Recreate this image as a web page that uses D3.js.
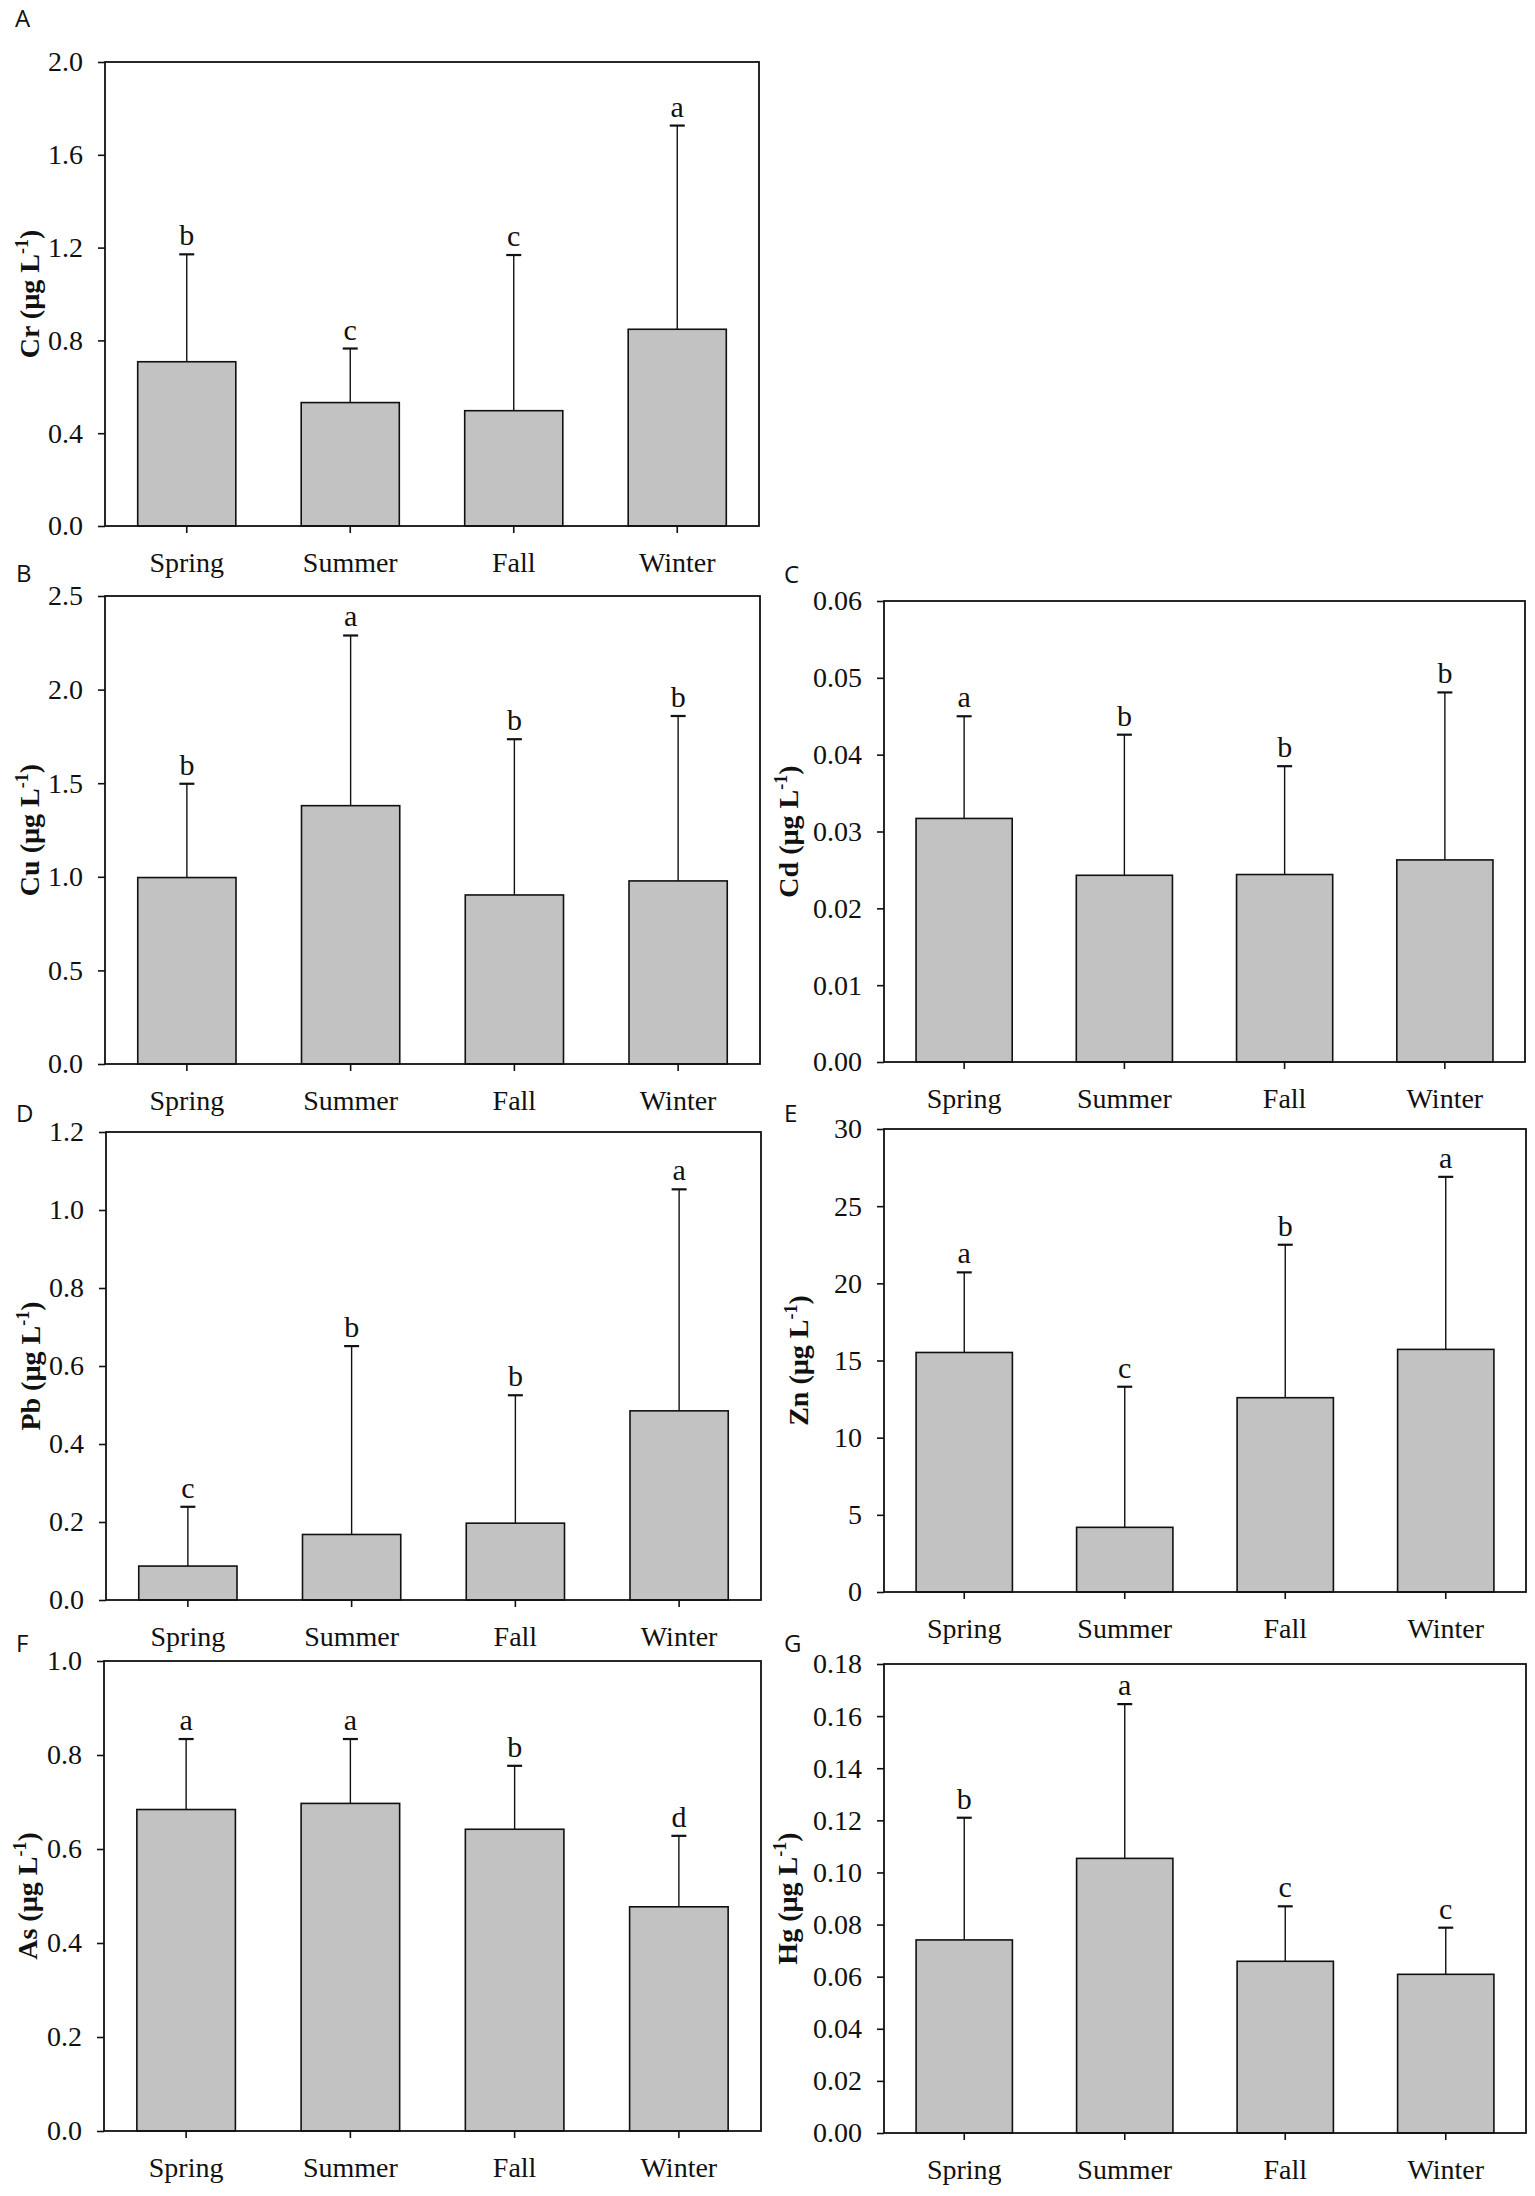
<!DOCTYPE html>
<html>
<head>
<meta charset="utf-8">
<script src="https://cdn.jsdelivr.net/npm/d3@7"></script>
<style>
  body { margin: 0; background: #fff; }
  svg { display: block; }
</style>
</head>
<body>
<div id="chart"></div>
<script>
// seasonal heavy metal concentrations, mean + upper SD, letters = significance groups
const seasons = ['Spring', 'Summer', 'Fall', 'Winter'];

const crMean = [0.708, 0.532, 0.497, 0.848];
const crSD   = [0.463, 0.233, 0.671, 0.878];
const crSig  = ['b', 'c', 'c', 'a'];
const crTicks = [0, 0.4, 0.8, 1.2, 1.6, 2.0];

const cuMean = [0.996, 1.380, 0.903, 0.978];
const cuSD   = [0.501, 0.909, 0.832, 0.881];
const cuSig  = ['b', 'a', 'b', 'b'];
const cuTicks = [0, 0.5, 1.0, 1.5, 2.0, 2.5];

const cdMean = [0.0317, 0.0243, 0.0244, 0.0263];
const cdSD   = [0.0133, 0.0183, 0.0141, 0.0218];
const cdSig  = ['a', 'b', 'b', 'b'];
const cdTicks = [0, 0.01, 0.02, 0.03, 0.04, 0.05, 0.06];

const pbMean = [0.087, 0.168, 0.197, 0.485];
const pbSD   = [0.152, 0.483, 0.328, 0.568];
const pbSig  = ['c', 'b', 'b', 'a'];
const pbTicks = [0, 0.2, 0.4, 0.6, 0.8, 1.0, 1.2];

const znMean = [15.52, 4.19, 12.59, 15.72];
const znSD   = [5.19, 9.11, 9.91, 11.18];
const znSig  = ['a', 'c', 'b', 'a'];
const znTicks = [0, 5, 10, 15, 20, 25, 30];

const asMean = [0.684, 0.697, 0.642, 0.477];
const asSD   = [0.150, 0.137, 0.135, 0.151];
const asSig  = ['a', 'a', 'b', 'd'];
const asTicks = [0, 0.2, 0.4, 0.6, 0.8, 1.0];

const hgMean = [0.0741, 0.1054, 0.0659, 0.0609];
const hgSD   = [0.0469, 0.0592, 0.0211, 0.0179];
const hgSig  = ['b', 'a', 'c', 'c'];
const hgTicks = [0, 0.02, 0.04, 0.06, 0.08, 0.10, 0.12, 0.14, 0.16, 0.18];

const panels = [
  {id: 'A', el: 'Cr', mean: crMean, sd: crSD, sig: crSig, ticks: crTicks, fmt: '.1f'},
  {id: 'B', el: 'Cu', mean: cuMean, sd: cuSD, sig: cuSig, ticks: cuTicks, fmt: '.1f'},
  {id: 'C', el: 'Cd', mean: cdMean, sd: cdSD, sig: cdSig, ticks: cdTicks, fmt: '.2f'},
  {id: 'D', el: 'Pb', mean: pbMean, sd: pbSD, sig: pbSig, ticks: pbTicks, fmt: '.1f'},
  {id: 'E', el: 'Zn', mean: znMean, sd: znSD, sig: znSig, ticks: znTicks, fmt: 'd'},
  {id: 'F', el: 'As', mean: asMean, sd: asSD, sig: asSig, ticks: asTicks, fmt: '.1f'},
  {id: 'G', el: 'Hg', mean: hgMean, sd: hgSD, sig: hgSig, ticks: hgTicks, fmt: '.2f'}
];

// plot boxes in page pixels, title = baseline x of rotated y title, lx/ly = panel letter
const layout = {
  A: {x0: 105, y0: 62,   x1: 759,  y1: 526,  title: 39,  lx: 15,  ly: 27},
  B: {x0: 105, y0: 596,  x1: 760,  y1: 1064, title: 39,  lx: 16,  ly: 582},
  C: {x0: 884, y0: 601,  x1: 1525, y1: 1062, title: 798, lx: 784, ly: 583},
  D: {x0: 106, y0: 1132, x1: 761,  y1: 1600, title: 40,  lx: 16,  ly: 1122},
  E: {x0: 884, y0: 1129, x1: 1526, y1: 1592, title: 808, lx: 784, ly: 1122},
  F: {x0: 104, y0: 1661, x1: 761,  y1: 2131, title: 37,  lx: 16,  ly: 1652},
  G: {x0: 884, y0: 1664, x1: 1526, y1: 2133, title: 797, lx: 784, ly: 1652}
};

const width = 1535;
const height = 2196;
const serif = '"Liberation Serif", "Times New Roman", serif';

const svg = d3.select('#chart').append('svg')
  .attr('width', width)
  .attr('height', height);

svg.append('rect').attr('width', width).attr('height', height).attr('fill', '#fff');

panels.forEach(p => {
  const L = layout[p.id];
  const data = seasons.map((s, i) => ({season: s, mean: p.mean[i], sd: p.sd[i], sig: p.sig[i]}));

  const x = d3.scaleBand()
    .domain(seasons)
    .range([L.x0, L.x1])
    .paddingInner(0.4)
    .paddingOuter(0.2);

  const y = d3.scaleLinear()
    .domain([p.ticks[0], p.ticks[p.ticks.length - 1]])
    .range([L.y1, L.y0]);

  const g = svg.append('g');

  // bars
  g.append('g')
    .selectAll('rect').data(data).enter().append('rect')
    .attr('x', d => x(d.season))
    .attr('y', d => y(d.mean))
    .attr('width', x.bandwidth())
    .attr('height', d => y(0) - y(d.mean))
    .attr('fill', '#c2c2c2')
    .attr('stroke', '#111')
    .attr('stroke-width', 1.6);

  // upper error bars
  const err = g.append('g').selectAll('g').data(data).enter().append('g');
  err.append('line')
    .attr('x1', d => x(d.season) + x.bandwidth() / 2)
    .attr('x2', d => x(d.season) + x.bandwidth() / 2)
    .attr('y1', d => y(d.mean))
    .attr('y2', d => y(d.mean + d.sd))
    .attr('stroke', '#111')
    .attr('stroke-width', 1.4);
  err.append('line')
    .attr('x1', d => x(d.season) + x.bandwidth() / 2 - 7.5)
    .attr('x2', d => x(d.season) + x.bandwidth() / 2 + 7.5)
    .attr('y1', d => y(d.mean + d.sd))
    .attr('y2', d => y(d.mean + d.sd))
    .attr('stroke', '#111')
    .attr('stroke-width', 2.2);

  // significance letters
  g.append('g')
    .selectAll('text').data(data).enter().append('text')
    .attr('x', d => x(d.season) + x.bandwidth() / 2)
    .attr('y', d => y(d.mean + d.sd) - 9)
    .attr('text-anchor', 'middle')
    .attr('font-family', serif)
    .attr('font-size', 30)
    .attr('fill', '#111')
    .text(d => d.sig);

  // frame
  g.append('rect')
    .attr('x', L.x0).attr('y', L.y0)
    .attr('width', L.x1 - L.x0).attr('height', L.y1 - L.y0)
    .attr('fill', 'none')
    .attr('stroke', '#111')
    .attr('stroke-width', 1.8);

  // axes
  const yAxis = g.append('g')
    .attr('transform', `translate(${L.x0},0)`)
    .call(d3.axisLeft(y).tickValues(p.ticks).tickFormat(d3.format(p.fmt)).tickSize(7).tickSizeOuter(0).tickPadding(15));
  const xAxis = g.append('g')
    .attr('transform', `translate(0,${L.y1})`)
    .call(d3.axisBottom(x).tickSize(7).tickSizeOuter(0).tickPadding(19));

  [yAxis, xAxis].forEach(a => {
    a.attr('font-family', serif).attr('font-size', 28);
    a.select('.domain').remove();
    a.selectAll('line').attr('stroke', '#111').attr('stroke-width', 1.6);
    a.selectAll('text')
      .attr('font-family', serif)
      .attr('font-size', 28)
      .attr('fill', '#111');
  });

  // y title with superscript
  const t = g.append('text')
    .attr('transform', `translate(${L.title},${(L.y0 + L.y1) / 2}) rotate(-90)`)
    .attr('text-anchor', 'middle')
    .attr('font-family', serif)
    .attr('font-weight', 'bold')
    .attr('font-size', 28)
    .attr('fill', '#111');
  t.append('tspan').text(`${p.el} (\u00b5g L`);
  t.append('tspan').attr('font-size', 18).attr('dy', -11).text('-1');
  t.append('tspan').attr('dy', 11).text(')');

  // panel letter
  svg.append('text')
    .attr('x', L.lx)
    .attr('y', L.ly)
    .attr('font-family', '"Open Sans", "Noto Sans", sans-serif')
    .attr('font-size', 24)
    .attr('fill', '#111')
    .text(p.id);
});
</script>
</body>
</html>
